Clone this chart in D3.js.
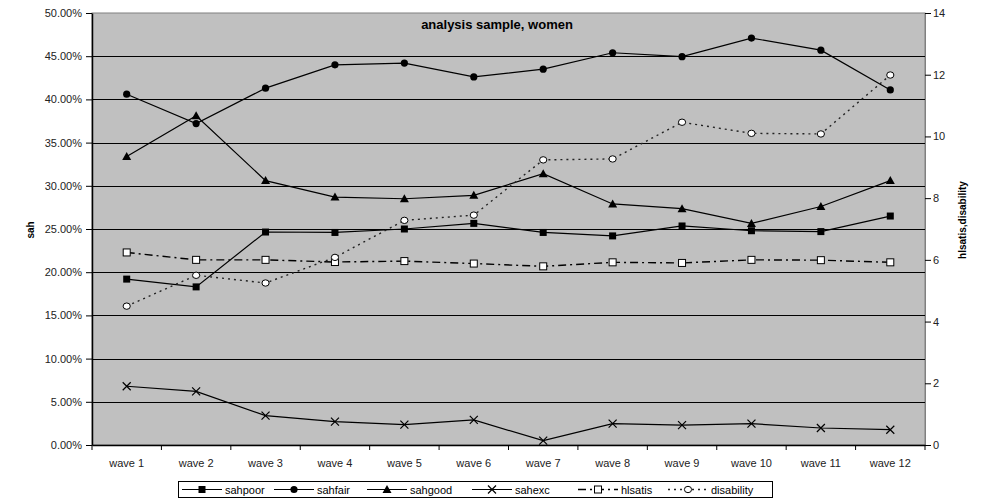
<!DOCTYPE html>
<html>
<head>
<meta charset="utf-8">
<script src="https://cdn.jsdelivr.net/npm/d3@7/dist/d3.min.js"></script>
<style>
  html, body { margin: 0; padding: 0; background: #fff; }
  svg { display: block; font-family: "Liberation Sans", Arial, sans-serif; }
</style>
</head>
<body>
<svg id="chart" width="986" height="499"></svg>
<script>
// Survey waves
const categories = ["wave 1","wave 2","wave 3","wave 4","wave 5","wave 6","wave 7","wave 8","wave 9","wave 10","wave 11","wave 12"];

// Self-assessed health shares (left axis, proportion)
const sahpoor = [0.192, 0.183, 0.2465, 0.246, 0.250, 0.2565, 0.246, 0.242, 0.2535, 0.248, 0.247, 0.265];
const sahfair = [0.406, 0.372, 0.413, 0.440, 0.442, 0.426, 0.435, 0.454, 0.4495, 0.471, 0.457, 0.411];
const sahgood = [0.334, 0.381, 0.306, 0.287, 0.285, 0.289, 0.314, 0.279, 0.2735, 0.2565, 0.276, 0.306];
const sahexc  = [0.068, 0.062, 0.034, 0.027, 0.0235, 0.029, 0.005, 0.0247, 0.023, 0.0247, 0.0197, 0.0177];

// Life satisfaction and disability (right axis)
const hlsatis    = [6.24, 6.00, 6.00, 5.93, 5.96, 5.88, 5.79, 5.92, 5.90, 6.00, 5.99, 5.92];
const disability = [4.50, 5.50, 5.25, 6.08, 7.28, 7.45, 9.24, 9.27, 10.46, 10.10, 10.08, 11.99];

// Axis ticks
const leftTicks  = [0, 0.05, 0.10, 0.15, 0.20, 0.25, 0.30, 0.35, 0.40, 0.45, 0.50];
const rightTicks = [0, 2, 4, 6, 8, 10, 12, 14];

const svg = d3.select("#chart");
const plotLeft = 92, plotRight = 925, plotTop = 13, plotBottom = 445;

const x  = d3.scaleBand().domain(categories).range([plotLeft, plotRight]);
const cx = d => x(d) + x.bandwidth() / 2;
const yL = d3.scaleLinear().domain([0, 0.5]).range([plotBottom, plotTop]);
const yR = d3.scaleLinear().domain([0, 14]).range([plotBottom, plotTop]);

// Plot area
svg.append("rect")
  .attr("x", plotLeft).attr("y", plotTop)
  .attr("width", plotRight - plotLeft).attr("height", plotBottom - plotTop)
  .attr("fill", "#c0c0c0").attr("stroke", "#808080").attr("stroke-width", 1);

// Horizontal gridlines
svg.append("g").selectAll("line")
  .data(leftTicks.slice(1, -1))
  .join("line")
  .attr("x1", plotLeft).attr("x2", plotRight)
  .attr("y1", d => Math.round(yL(d)) + 0.5).attr("y2", d => Math.round(yL(d)) + 0.5)
  .attr("stroke", "#000").attr("stroke-width", 1);

// Left axis
const gL = svg.append("g").attr("transform", `translate(${plotLeft},0)`)
  .call(d3.axisLeft(yL).tickValues(leftTicks).tickFormat(d3.format(".2%")).tickSize(6).tickSizeOuter(0).tickPadding(4));
// Right axis
const gR = svg.append("g").attr("transform", `translate(${plotRight},0)`)
  .call(d3.axisRight(yR).tickValues(rightTicks).tickSize(6).tickSizeOuter(0).tickPadding(2));
// Bottom axis: labels centred on categories, tick marks between them
const gB = svg.append("g").attr("transform", `translate(0,${plotBottom})`)
  .call(d3.axisBottom(x).tickSize(0).tickSizeOuter(0).tickPadding(14));
gB.append("g").selectAll("line")
  .data(d3.range(categories.length + 1))
  .join("line")
  .attr("x1", i => plotLeft + i * x.step()).attr("x2", i => plotLeft + i * x.step())
  .attr("y1", 0).attr("y2", 5)
  .attr("stroke", "#000");

[gL, gR, gB].forEach(g => {
  g.selectAll(".domain").attr("stroke", "#000").attr("stroke-width", 1.5);
  g.selectAll(".tick line").attr("stroke", "#000");
  g.selectAll("text").attr("font-size", 11).attr("fill", "#222")
    .attr("font-family", "'Liberation Sans', Arial, sans-serif");
});
gR.select(".domain").attr("stroke", "#808080").attr("stroke-width", 1);

// Titles
svg.append("text").attr("x", 497).attr("y", 29)
  .attr("text-anchor", "middle").attr("font-size", 13).attr("font-weight", "bold")
  .text("analysis sample, women");
svg.append("text").attr("transform", "translate(34,230) rotate(-90)")
  .attr("text-anchor", "middle").attr("font-size", 10).attr("font-weight", "bold")
  .text("sah");
svg.append("text").attr("transform", "translate(966,220) rotate(-90)")
  .attr("text-anchor", "middle").attr("font-size", 10).attr("font-weight", "bold")
  .text("hlsatis,disability");

// Marker drawing
function marker(g, type, px, py) {
  if (type === "square") {
    g.append("rect").attr("x", px - 3.5).attr("y", py - 3.5).attr("width", 7).attr("height", 7)
      .attr("fill", "#000");
  } else if (type === "circle") {
    g.append("circle").attr("cx", px).attr("cy", py).attr("r", 3.6).attr("fill", "#000");
  } else if (type === "triangle") {
    g.append("path").attr("d", `M${px},${py - 4.5}L${px + 4.5},${py + 3.5}L${px - 4.5},${py + 3.5}Z`)
      .attr("fill", "#000");
  } else if (type === "cross") {
    g.append("path").attr("d", `M${px - 4},${py - 4}L${px + 4},${py + 4}M${px + 4},${py - 4}L${px - 4},${py + 4}`)
      .attr("stroke", "#000").attr("stroke-width", 1.2).attr("fill", "none");
  } else if (type === "osquare") {
    g.append("rect").attr("x", px - 3.5).attr("y", py - 3.5).attr("width", 7).attr("height", 7)
      .attr("fill", "#fff").attr("stroke", "#000").attr("stroke-width", 1);
  } else if (type === "ocircle") {
    g.append("ellipse").attr("cx", px).attr("cy", py).attr("rx", 3.6).attr("ry", 3.2)
      .attr("fill", "#fff").attr("stroke", "#000").attr("stroke-width", 1);
  }
}

const series = [
  { name: "sahpoor",    values: sahpoor,    y: yL, m: "square",   dash: null,      color: "#000", w: 1.2 },
  { name: "sahfair",    values: sahfair,    y: yL, m: "circle",   dash: null,      color: "#000", w: 1.2 },
  { name: "sahgood",    values: sahgood,    y: yL, m: "triangle", dash: null,      color: "#000", w: 1.2 },
  { name: "sahexc",     values: sahexc,     y: yL, m: "cross",    dash: null,      color: "#000", w: 1.2 },
  { name: "hlsatis",    values: hlsatis,    y: yR, m: "osquare",  dash: "8,4,2,4", color: "#000", w: 1.4 },
  { name: "disability", values: disability, y: yR, m: "ocircle",  dash: "2,4",     color: "#222", w: 1.4 }
];

const plot = svg.append("g");
series.forEach(s => {
  const line = d3.line().x((d, i) => cx(categories[i])).y(d => s.y(d));
  plot.append("path").datum(s.values)
    .attr("d", line).attr("fill", "none")
    .attr("stroke", s.color).attr("stroke-width", s.w)
    .attr("stroke-dasharray", s.dash);
});
series.forEach(s => {
  const g = plot.append("g");
  s.values.forEach((v, i) => marker(g, s.m, cx(categories[i]), s.y(v)));
});

// Legend
const legend = svg.append("g");
legend.append("rect").attr("x", 178.5).attr("y", 481.5).attr("width", 594).attr("height", 16)
  .attr("fill", "#fff").attr("stroke", "#000").attr("stroke-width", 1);
const legendX = [182, 274, 367, 472, 578, 668];
series.forEach((s, i) => {
  const x0 = legendX[i], ly = 489.5;
  legend.append("line").attr("x1", x0).attr("x2", x0 + 40).attr("y1", ly).attr("y2", ly)
    .attr("stroke", s.color).attr("stroke-width", s.w).attr("stroke-dasharray", s.dash);
  marker(legend, s.m, x0 + 20, ly);
  legend.append("text").attr("x", x0 + 43).attr("y", ly + 4)
    .attr("font-size", 11).attr("fill", "#000").text(s.name);
});
</script>
</body>
</html>
